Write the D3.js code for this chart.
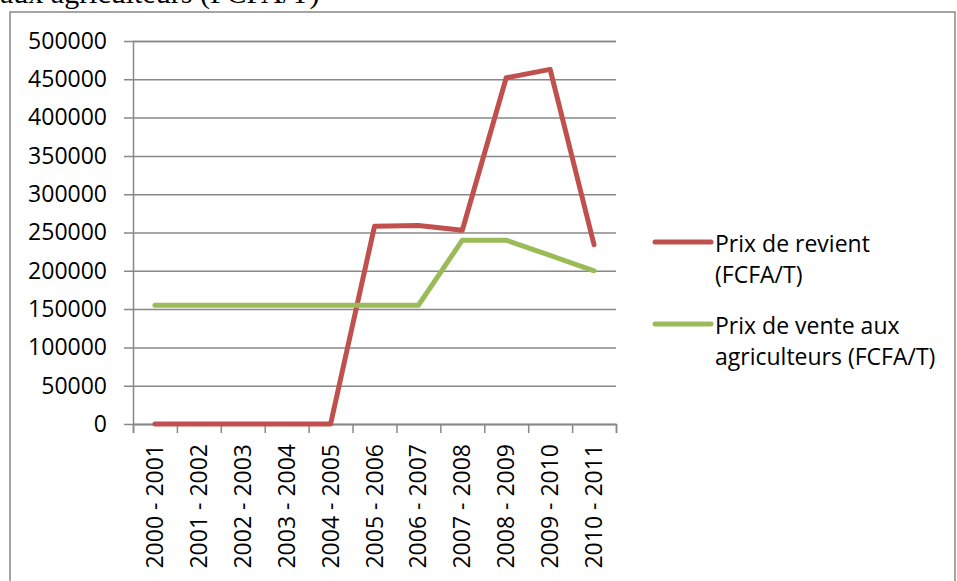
<!DOCTYPE html>
<html>
<head>
<meta charset="utf-8">
<script src="https://cdn.jsdelivr.net/npm/d3@7"></script>
<style>
  html, body { margin: 0; padding: 0; background: #fff; overflow: hidden; }
  svg text { font-family: "Open Sans", sans-serif; fill: #000; }
</style>
</head>
<body>
<script>
(function() {

    const width = 957;
    const height = 581;

    // data
    const categories = ["2000 - 2001", "2001 - 2002", "2002 - 2003", "2003 - 2004", "2004 - 2005",
        "2005 - 2006", "2006 - 2007", "2007 - 2008", "2008 - 2009", "2009 - 2010", "2010 - 2011"];
    const prixRevient = [0, 0, 0, 0, 0, 258000, 259000, 253000, 452000, 463000, 234000];
    const prixVente = [155000, 155000, 155000, 155000, 155000, 155000, 155000, 240000, 240000, 220000, 200000];
    const yTicks = [0, 50000, 100000, 150000, 200000, 250000, 300000, 350000, 400000, 450000, 500000];
    const seriesNames = [["Prix de revient", "(FCFA/T)"], ["Prix de vente aux", "agriculteurs (FCFA/T)"]];
    const seriesColors = ["#C0504D", "#9BBB59"];

    const plot = { left: 133, right: 616, top: 41, bottom: 424 };
    const gridColor = "#888888";

    let svg = d3.select("body").append("svg")
        .attr("width", width)
        .attr("height", height);

    // title text cut off at the top of the picture
    svg.append("text")
        .attr("x", 0)
        .attr("y", 3)
        .style("font-family", "'Liberation Serif', 'Times New Roman', serif")
        .style("font-size", "30px")
        .text("aux agriculteurs (FCFA/T)");

    // chart border
    svg.append("rect")
        .attr("x", 10)
        .attr("y", 12)
        .attr("width", 945)
        .attr("height", 620)
        .style("fill", "none")
        .style("stroke", gridColor)
        .style("stroke-width", 1.5);

    let x = d3.scaleBand()
        .domain(categories)
        .range([plot.left, plot.right]);

    let xEdge = d3.scaleLinear()
        .domain([0, categories.length])
        .range([plot.left, plot.right]);

    let y = d3.scaleLinear()
        .domain([0, 500000])
        .range([plot.bottom, plot.top]);

    // y axis with gridlines
    let yAxis = svg.append("g")
        .attr("transform", "translate(" + plot.left + ",0)")
        .call(d3.axisLeft(y)
            .tickValues(yTicks)
            .tickFormat(d3.format("d"))
            .tickSize(-(plot.right - plot.left))
            .tickPadding(26));
    yAxis.select(".domain").style("stroke", gridColor).style("stroke-width", 1.5);
    yAxis.selectAll(".tick line")
        .attr("x1", -9)
        .style("stroke", gridColor)
        .style("stroke-width", 1.5);
    yAxis.selectAll(".tick text")
        .style("font-size", "23px")
        .style("font-family", "'Open Sans', sans-serif");

    // x axis: ticks between the categories
    let xAxis = svg.append("g")
        .attr("transform", "translate(0," + plot.bottom + ")")
        .call(d3.axisBottom(xEdge)
            .tickValues(d3.range(categories.length + 1))
            .tickFormat("")
            .tickSizeOuter(0)
            .tickSize(9));
    xAxis.select(".domain").style("stroke", gridColor).style("stroke-width", 1.5);
    xAxis.selectAll(".tick line").style("stroke", gridColor).style("stroke-width", 1.5);

    // rotated category labels
    svg.append("g")
        .selectAll("text")
        .data(categories)
        .enter()
        .append("text")
        .attr("transform", function(d) {
            return "translate(" + (x(d) + x.bandwidth() / 2) + "," + (plot.bottom + 20) + ") rotate(-90)";
        })
        .attr("dy", "0.35em")
        .attr("text-anchor", "end")
        .style("font-size", "23px")
        .text(function(d) { return d; });

    // lines
    let line = d3.line()
        .x(function(d, i) { return x(categories[i]) + x.bandwidth() / 2; })
        .y(function(d) { return y(d); });

    [prixRevient, prixVente].forEach(function(values, i) {
        svg.append("path")
            .datum(values)
            .attr("d", line)
            .style("fill", "none")
            .style("stroke", seriesColors[i])
            .style("stroke-width", 5)
            .style("stroke-linejoin", "round")
            .style("stroke-linecap", "round");
    });

    // legend
    let legendY = [242, 324];
    let legend = svg.selectAll(".legend")
        .data(seriesNames)
        .enter()
        .append("g")
        .attr("class", "legend")
        .attr("transform", function(d, i) { return "translate(655," + legendY[i] + ")"; });

    legend.append("line")
        .attr("x1", 0)
        .attr("x2", 56)
        .style("stroke", function(d, i) { return seriesColors[i]; })
        .style("stroke-width", 5)
        .style("stroke-linecap", "round");

    legend.each(function(d) {
        let t = d3.select(this).append("text")
            .attr("x", 60)
            .attr("y", 10)
            .style("font-size", "23px");
        t.selectAll("tspan")
            .data(d)
            .enter()
            .append("tspan")
            .attr("x", 60)
            .attr("dy", function(s, k) { return k === 0 ? 0 : 31; })
            .text(function(s) { return s; });
    });

})();
</script>
</body>
</html>
